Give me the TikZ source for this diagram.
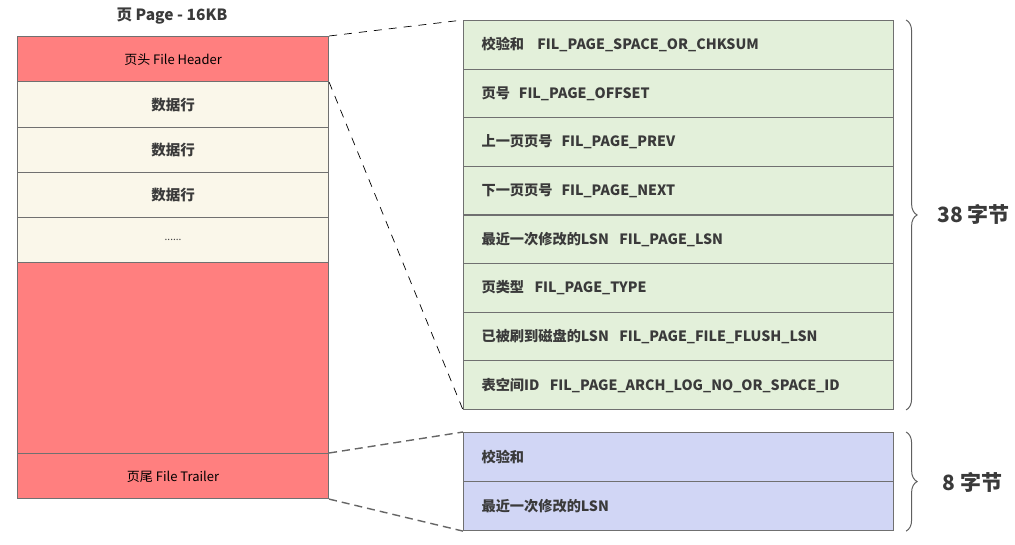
\documentclass[tikz,border=0pt]{standalone}
\usepackage{fontspec}
\setmainfont{Noto Sans CJK SC}
\usetikzlibrary{decorations.pathreplacing}
\definecolor{pred}{HTML}{FF7F7F}
\definecolor{pcream}{HTML}{FAF7EA}
\definecolor{pgreen}{HTML}{E3F0DA}
\definecolor{pblue}{HTML}{D1D6F5}
\definecolor{pborder}{HTML}{707070}
\definecolor{ptext}{HTML}{3A3A3A}
\begin{document}
\begin{tikzpicture}[x=1pt,y=-1pt,
  cell/.style={draw=pborder,line width=1.1pt,minimum width=311pt,anchor=north west,inner sep=0pt,font=\fontsize{13}{15}\selectfont},
  redcell/.style={cell,fill=pred,text=black,text depth=-2pt},
  creamcell/.style={cell,fill=pcream,text=ptext,font=\fontsize{14.5}{16}\selectfont\bfseries},
  tabrow/.style={draw=pborder,line width=1.1pt,anchor=north west,inner xsep=18pt,inner ysep=0pt,text width=394pt,align=left,minimum height=48.6pt,text=ptext,font=\fontsize{14.2}{16}\selectfont\bfseries},
  greenrow/.style={tabrow,fill=pgreen},
  bluerow/.style={tabrow,fill=pblue,minimum height=49pt},
  conn/.style={line width=0.7pt,black,dash pattern=on 8pt off 7pt},
  conng/.style={line width=1.4pt,gray!80!black,dash pattern=on 8pt off 5pt},
  bracest/.style={decorate,decoration={brace,amplitude=11pt},line width=1pt,gray!75!black},
  bytes/.style={font=\fontsize{21}{24}\selectfont\bfseries,text=ptext,anchor=west}
]
\useasboundingbox (0,0) rectangle (1015,544);
% title
\node[font=\fontsize{15.5}{18}\selectfont\bfseries,text=ptext] (title) at (172,16) {页 Page - 16KB};
% left column
\node[redcell,minimum height=45pt] (hdr) at (17,36) {页头 File Header};
\node[creamcell,minimum height=46pt] (d1) at (17,81) {数据行};
\node[creamcell,minimum height=45pt] (d2) at (17,127) {数据行};
\node[creamcell,minimum height=45pt] (d3) at (17,172) {数据行};
\node[creamcell,minimum height=45pt,font=\fontsize{10}{10}\selectfont,text depth=-14pt] (d4) at (17,217) {......};
\node[redcell,minimum height=191pt] (body) at (17,262) {};
\node[redcell,minimum height=45pt] (trl) at (17,453) {页尾 File Trailer};
% green table
\node[greenrow] (g1) at (463,20) {校验和\hspace{0.6em} FIL\_PAGE\_SPACE\_OR\_CHKSUM};
\node[greenrow] (g2) at (463,68.6) {页号\hspace{0.3em} FIL\_PAGE\_OFFSET};
\node[greenrow] (g3) at (463,117.2) {上一页页号\hspace{0.3em} FIL\_PAGE\_PREV};
\node[greenrow] (g4) at (463,165.8) {下一页页号\hspace{0.3em} FIL\_PAGE\_NEXT};
\node[greenrow] (g5) at (463,214.4) {最近一次修改的LSN\hspace{0.4em} FIL\_PAGE\_LSN};
\node[greenrow] (g6) at (463,263) {页类型\hspace{0.4em} FIL\_PAGE\_TYPE};
\node[greenrow] (g7) at (463,311.6) {已被刷到磁盘的LSN\hspace{0.4em} FIL\_PAGE\_FILE\_FLUSH\_LSN};
\node[greenrow] (g8) at (463,360.2) {表空间ID\hspace{0.4em} FIL\_PAGE\_ARCH\_LOG\_NO\_OR\_SPACE\_ID};
% blue table
\node[bluerow] (b1) at (463,432) {校验和};
\node[bluerow] (b2) at (463,481) {最近一次修改的LSN};
% connectors
\draw[conn] (hdr.north east) -- (g1.north west);
\draw[conn] (hdr.south east) -- (g8.south west);
\draw[conng] (trl.north east) -- (b1.north west);
\draw[conng] (trl.south east) -- (b2.south west);
% braces
\coordinate (gt) at ([xshift=12pt]g1.north east);
\coordinate (gb) at ([xshift=12pt]g8.south east);
\coordinate (bt) at ([xshift=12pt]b1.north east);
\coordinate (bb) at ([xshift=12pt]b2.south east);
\draw[bracest] (gt) -- (gb);
\draw[bracest] (bt) -- (bb);
\node[bytes] (l38) at (934,214) {38 字节};
\node[bytes] (l8) at (939,482) {8 字节};
\end{tikzpicture}
\end{document}
